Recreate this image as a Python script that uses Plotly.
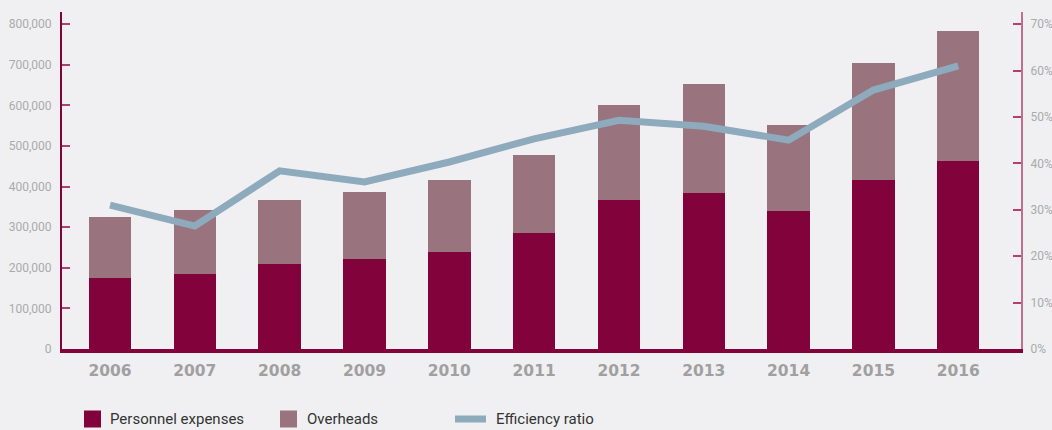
import plotly.graph_objects as go

years = ["2006", "2007", "2008", "2009", "2010", "2011", "2012", "2013", "2014", "2015", "2016"]
personnel = [175000, 185000, 210000, 222000, 239000, 286000, 367000, 385000, 340000, 417000, 463000]
totals = [325000, 343000, 367000, 387000, 417000, 478000, 602000, 653000, 552000, 705000, 784000]
overheads = [t - p for t, p in zip(totals, personnel)]
efficiency = [31.0, 26.5, 38.4, 36.0, 40.3, 45.3, 49.3, 48.0, 45.0, 55.8, 61.0]

left_ticks = [0, 100000, 200000, 300000, 400000, 500000, 600000, 700000, 800000]
left_labels = ["0", "100,000", "200,000", "300,000", "400,000", "500,000", "600,000", "700,000", "800,000"]
right_ticks = [0, 10, 20, 30, 40, 50, 60, 70]
right_labels = ["0%", "10%", "20%", "30%", "40%", "50%", "60%", "70%"]

DARK = "#82033b"
OVER = "#99747f"
LINE = "#8eaabd"
BG = "#f0f0f2"
PINK = "#c0708f"

ymax = 830000
fig = go.Figure()
fig.add_trace(go.Bar(x=years, y=personnel, name="Personnel expenses", marker_color=DARK,
                     marker_line_width=0, width=0.5))
fig.add_trace(go.Bar(x=years, y=overheads, name="Overheads", marker_color=OVER,
                     marker_line_width=0, width=0.5))
fig.add_trace(go.Scatter(x=years, y=efficiency, name="Efficiency ratio", mode="lines",
                         line=dict(color=LINE, width=7), yaxis="y2"))

fig.update_layout(
    barmode="stack",
    width=1052, height=430,
    paper_bgcolor=BG, plot_bgcolor=BG,
    margin=dict(l=62, r=31, t=12, b=81, autoexpand=False),
    showlegend=False,
    xaxis=dict(type="category", range=[-0.566, 10.74], showgrid=False, ticks="",
               showline=True, linecolor=DARK, linewidth=4, automargin=False,
               tickfont=dict(family="DejaVu Sans", size=15.5, color="#a0a0a0", weight="bold"),
               ticklabelstandoff=4),
    yaxis=dict(range=[0, ymax], tickvals=left_ticks, ticktext=left_labels, showgrid=False,
               zeroline=False, showline=True, linecolor=DARK, linewidth=2, automargin=False,
               ticks="inside", ticklen=8, tickwidth=2, tickcolor="#b0416e",
               tickfont=dict(family="Roboto", size=12, color="#aaaaaa"), ticklabelstandoff=6),
    yaxis2=dict(range=[0, ymax * 70 / 800000], overlaying="y", side="right",
                tickvals=right_ticks, ticktext=right_labels, showgrid=False, zeroline=False,
                showline=True, linecolor=PINK, linewidth=2, automargin=False,
                ticks="inside", ticklen=8, tickwidth=2, tickcolor="#b0416e",
                tickfont=dict(family="Roboto", size=12, color="#aaaaaa"), ticklabelstandoff=5),
)

# Legend drawn in pixel-like paper coordinates
pw = 1052 - 62 - 31
ph = 430 - 12 - 81
def px(x):
    return (x - 62) / pw
def py(y):
    return (430 - 81 - y) / ph

legend_items = [
    ("rect", 84, 101, DARK, 108, "Personnel expenses"),
    ("rect", 280, 297, OVER, 305, "Overheads"),
    ("line", 455, 486, LINE, 494, "Efficiency ratio"),
]
yc = 419
for kind, x0, x1, col, tx, label in legend_items:
    if kind == "rect":
        fig.add_shape(type="rect", xref="paper", yref="paper", x0=px(x0), x1=px(x1),
                      y0=py(yc + 8.5), y1=py(yc - 8.5), fillcolor=col, line_width=0)
    else:
        fig.add_shape(type="rect", xref="paper", yref="paper", x0=px(x0), x1=px(x1),
                      y0=py(yc + 3.5), y1=py(yc - 3.5), fillcolor=col, line_width=0)
    fig.add_annotation(xref="paper", yref="paper", x=px(tx), y=py(yc), text=label,
                       showarrow=False, xanchor="left", yanchor="middle",
                       font=dict(family="Roboto", size=15, color="#333333"))

fig.write_html("out.html", config={"displayModeBar": False},
               post_script="document.body.style.margin='0';document.body.style.overflow='hidden';")
